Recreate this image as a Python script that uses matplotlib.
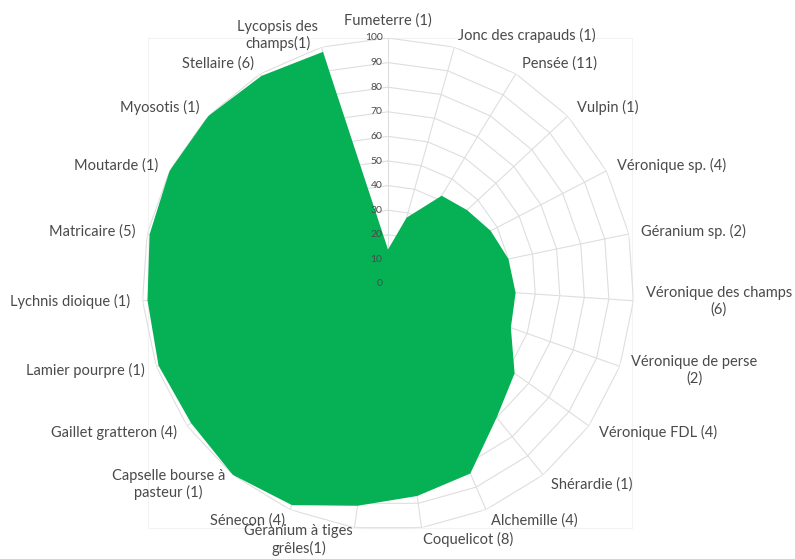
import numpy as np
import matplotlib
matplotlib.use("Agg")
import matplotlib.pyplot as plt
from matplotlib.patches import Rectangle

# espèces et fréquences (%)
especes = [
    "Fumeterre (1)", "Jonc des crapauds (1)", "Pensée (11)", "Vulpin (1)",
    "Véronique sp. (4)", "Géranium sp. (2)", "Véronique des champs\n(6)",
    "Véronique de perse\n(2)", "Véronique FDL (4)", "Shérardie (1)",
    "Alchemille (4)", "Coquelicot (8)", "Géranium à tiges\ngrêles(1)",
    "Sénecon (4)", "Capselle bourse à\npasteur (1)", "Gaillet gratteron (4)",
    "Lamier pourpre (1)", "Lychnis dioique (1)", "Matricaire (5)",
    "Moutarde (1)", "Myosotis (1)", "Stellaire (6)", "Lycopsis des\nchamps(1)",
]
frequence = [14, 28, 42, 44, 47, 50, 52, 53, 63, 70, 84, 87, 91,
             98, 100, 98, 99, 98, 99, 100, 100, 99, 98]
graduations = list(range(0, 101, 10))

plt.rcParams['font.family'] = ['Lato', 'DejaVu Sans']
gris_texte = "#4a4a4a"
gris_grille = "#dedede"
vert = "#00b050"

n = len(especes)
angles = np.linspace(0, 2 * np.pi, n, endpoint=False)
angles_fermes = np.append(angles, angles[0])

fig = plt.figure(figsize=(7.95, 5.59), dpi=100)
fig.patch.set_facecolor("white")

# cadre de la zone de tracé (très pâle, derrière tout le reste)
fig.add_artist(Rectangle((148 / 795, 1 - 528 / 559), 484 / 795, 490 / 559,
                         transform=fig.transFigure, fill=False, zorder=-1,
                         edgecolor="#f3f3f3", linewidth=0.8))

ax = fig.add_axes([142 / 795, 29 / 559, 492 / 795, 492 / 559], projection="polar")
ax.set_theta_zero_location("N")
ax.set_theta_direction(-1)
ax.set_ylim(0, 100)
ax.grid(False)
ax.set_xticks([])
ax.set_yticks([])
ax.spines["polar"].set_visible(False)
ax.patch.set_alpha(0)

# grille polygonale + rayons
for g in graduations[1:]:
    ax.plot(angles_fermes, [g] * (n + 1), color=gris_grille, lw=0.8, zorder=1)
for a in angles:
    ax.plot([a, a], [0, 100], color=gris_grille, lw=0.8, zorder=1)

# zone remplie
vals = frequence + frequence[:1]
ax.fill(angles_fermes, vals, color=vert, alpha=0.98, linewidth=0, zorder=2)

# étiquettes de l'axe radial
for g in graduations:
    ax.annotate(str(g), xy=(0, g), xytext=(-4, 0), textcoords="offset points",
                ha="right", va="center", fontsize=7.5, color=gris_texte, zorder=3)

# étiquettes des catégories
for a, nom in zip(angles, especes):
    s = np.sin(a)
    if abs(s) < 0.05:
        ha, va, r = "center", "bottom", 104
    else:
        ha = "left" if s > 0 else "right"
        va, r = "center", 105
    ax.text(a, r, nom, ha=ha, va=va, multialignment="center",
            fontsize=10.5, color=gris_texte, clip_on=False)

fig.savefig("out.png", dpi=100)
